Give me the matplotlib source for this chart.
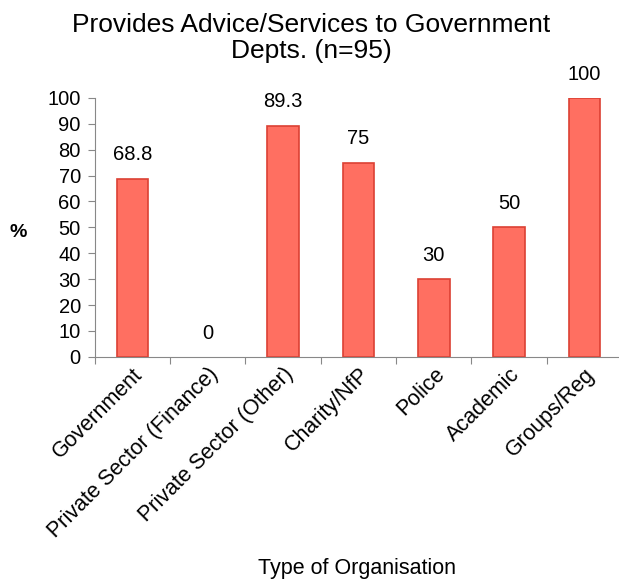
import matplotlib
matplotlib.use("Agg")
import matplotlib.pyplot as plt

categories = ["Government", "Private Sector (Finance)", "Private Sector (Other)",
              "Charity/NfP", "Police", "Academic", "Groups/Reg"]
values = [68.8, 0, 89.3, 75, 30, 50, 100]
value_labels = ["68.8", "0", "89.3", "75", "30", "50", "100"]

plt.rcParams['font.family'] = ['Liberation Sans', 'DejaVu Sans']

fig = plt.figure(figsize=(6.19, 5.86), dpi=100)
ax = fig.add_axes([0.153, 0.391, 0.852, 0.442])

x = range(len(categories))
# empty bars get no outline
edge_widths = [1.2 if v > 0 else 0 for v in values]
ax.bar(x, values, width=0.42, color='#FF6F61', edgecolor='#DC4134',
       linewidth=edge_widths, zorder=2)

for xi, v, lab in zip(x, values, value_labels):
    ax.text(xi, v + 5.5, lab, ha='center', va='bottom', fontsize=14.5)

ax.set_xlim(-0.5, len(categories) - 0.5)
ax.set_ylim(0, 100)
ax.set_yticks(range(0, 101, 10))
ax.set_xticks([i - 0.5 for i in range(len(categories))])
ax.set_xticklabels([])
ax.set_xticks(list(x), minor=True)
ax.set_xticklabels(categories, minor=True, rotation=45, ha='right', rotation_mode='anchor', fontsize=15.5)
ax.tick_params(axis='x', which='minor', length=0, pad=5)
ax.tick_params(axis='x', which='major', length=5, color='#888888', direction='out')
ax.tick_params(axis='y', length=5, color='#888888', labelsize=14.5, pad=5)

for s in ['top', 'right']:
    ax.spines[s].set_visible(False)
for s in ['left', 'bottom']:
    ax.spines[s].set_color('#888888')

ax.set_title("Provides Advice/Services to Government\nDepts. (n=95)", fontsize=19, pad=29, x=0.41,
             linespacing=1.1)
fig.text(0.03, 0.604, "%", fontsize=14, fontweight='bold', ha='center', va='center')
fig.text(0.577, 0.03, "Type of Organisation", fontsize=15.5, ha='center', va='center')

fig.savefig("out.png", dpi=100)
